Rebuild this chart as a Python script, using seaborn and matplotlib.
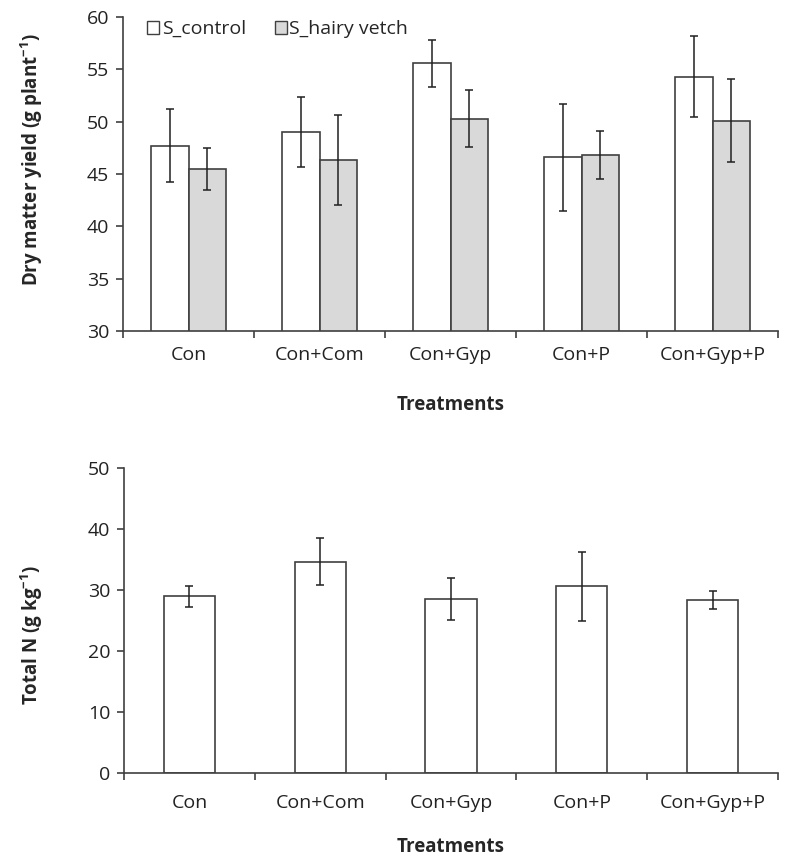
import numpy as np
import pandas as pd
import seaborn as sns
import matplotlib
matplotlib.use('Agg')
import matplotlib.pyplot as plt
from matplotlib.ticker import FixedLocator

treatments = ['Con', 'Con+Com', 'Con+Gyp', 'Con+P', 'Con+Gyp+P']
series = ['S_control', 'S_hairy vetch']

# dry matter yield (g plant-1) and error
dm_control = [47.7, 49.0, 55.6, 46.6, 54.3]
dm_control_err = [3.5, 3.35, 2.25, 5.1, 3.85]
dm_vetch = [45.45, 46.3, 50.3, 46.85, 50.1]
dm_vetch_err = [2.0, 4.3, 2.75, 2.3, 3.95]

# total N (g kg-1) and error
total_n = [28.9, 34.6, 28.5, 30.55, 28.3]
total_n_err = [1.7, 3.85, 3.4, 5.65, 1.5]

sns.set_style('white')
plt.rcParams['font.family'] = ['Open Sans', 'DejaVu Sans']
plt.rcParams['mathtext.default'] = 'regular'

edge = '#404040'
tick_fs = 14
label_fs = 13.5

fig = plt.figure(figsize=(7.98, 8.66), dpi=100)
ax1 = fig.add_axes([123 / 798, 1 - 331 / 866, (778 - 123) / 798, (331 - 17) / 866])
ax2 = fig.add_axes([124 / 798, 1 - 772.7 / 866, (778 - 124) / 798, (772.7 - 467.7) / 866])

df_dm = pd.DataFrame({
    'treatment': treatments * 2,
    'series': [series[0]] * 5 + [series[1]] * 5,
    'value': dm_control + dm_vetch,
    'err': dm_control_err + dm_vetch_err,
})
df_n = pd.DataFrame({'treatment': treatments, 'value': total_n, 'err': total_n_err})

# 上圖：乾物重
sns.barplot(data=df_dm, x='treatment', y='value', hue='series', order=treatments,
            hue_order=series, palette=['white', '#d9d9d9'], edgecolor=edge,
            linewidth=1.2, width=0.57, errorbar=None, ax=ax1)
for cont, s in zip(ax1.containers, series):
    errs = df_dm[df_dm['series'] == s]['err'].values
    vals = df_dm[df_dm['series'] == s]['value'].values
    xs = [p.get_x() + p.get_width() / 2 for p in cont.patches]
    ax1.errorbar(xs, vals, yerr=errs, fmt='none', ecolor='#202020', elinewidth=1.1,
                 capsize=3, capthick=1.1)

# 下圖：全氮
sns.barplot(data=df_n, x='treatment', y='value', order=treatments, color='white',
            edgecolor=edge, linewidth=1.2, width=0.39, errorbar=None, ax=ax2)
xs = [p.get_x() + p.get_width() / 2 for p in ax2.patches]
ax2.errorbar(xs, df_n['value'], yerr=df_n['err'], fmt='none', ecolor='#202020',
             elinewidth=1.1, capsize=3, capthick=1.1)

ax1.set_ylim(30, 60)
ax1.set_yticks(np.arange(30, 61, 5))
ax2.set_ylim(0, 50)
ax2.set_yticks(np.arange(0, 51, 10))

for ax, pad in [(ax1, 11), (ax2, 15)]:
    ax.set_xlim(-0.5, 4.5)
    sns.despine(ax=ax)
    for sp in ['left', 'bottom']:
        ax.spines[sp].set_color(edge)
        ax.spines[sp].set_linewidth(1.2)
    ax.xaxis.set_minor_locator(FixedLocator(np.arange(-0.5, 5, 1)))
    ax.tick_params(axis='x', which='major', length=0, pad=pad, labelsize=tick_fs, labelcolor='#222222')
    ax.tick_params(axis='x', which='minor', length=5, width=1.2, color=edge, direction='out', bottom=True)
    ax.tick_params(axis='y', length=5, width=1.2, color=edge, direction='out', left=True,
                   labelsize=tick_fs, labelcolor='#222222', pad=5)

ax1.set_xlabel('Treatments', fontsize=label_fs, fontweight='bold')
ax2.set_xlabel('Treatments', fontsize=label_fs, fontweight='bold')
ax1.xaxis.set_label_coords(0.5, -0.236, transform=ax1.transAxes)
ax2.xaxis.set_label_coords(0.5, -0.244, transform=ax2.transAxes)
ax1.xaxis.label.set_va('center')
ax2.xaxis.label.set_va('center')

ax1.set_ylabel('Dry matter yield (g plant$^{-1}$)', fontsize=label_fs, fontweight='bold')
ax2.set_ylabel('Total N (g kg$^{-1}$)', fontsize=label_fs, fontweight='bold')
ax1.yaxis.set_label_coords(-0.139, 0.545, transform=ax1.transAxes)
ax2.yaxis.set_label_coords(-0.141, 0.45, transform=ax2.transAxes)
ax1.yaxis.label.set_va('center')
ax2.yaxis.label.set_va('center')

leg = ax1.legend(loc='upper left', bbox_to_anchor=(0.037, 0.99), ncol=2, frameon=False,
                 borderpad=0, borderaxespad=0, fontsize=tick_fs, handlelength=0.62,
                 handleheight=0.62, handletextpad=0.15, columnspacing=1.45)
for h in leg.legend_handles:
    h.set_edgecolor(edge)
    h.set_linewidth(1.0)

fig.savefig('out.png', dpi=100)
